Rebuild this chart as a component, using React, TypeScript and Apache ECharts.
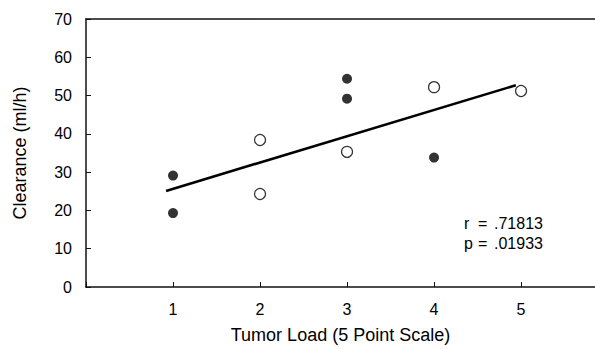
import React, { useEffect, useRef } from "react";
import * as echarts from "echarts";

const filledPoints: [number, number][] = [
  [1, 29.1],
  [1, 19.3],
  [3, 54.4],
  [3, 49.2],
  [4, 33.8],
];
const openPoints: [number, number][] = [
  [2, 38.4],
  [2, 24.3],
  [3, 35.3],
  [4, 52.2],
  [5, 51.2],
];
const fitLine: [number, number][] = [
  [0.92, 25.1],
  [4.94, 52.7],
];
const xTicks = [1, 2, 3, 4, 5];
const statLabels = ["r", "p"];
const statValues = [".71813", ".01933"];

const FONT = "'Liberation Sans', Arial, Helvetica, sans-serif";

export default function App() {
  const ref = useRef<HTMLDivElement>(null);
  useEffect(() => {
    if (!ref.current) return;
    const chart = echarts.init(ref.current, null, { renderer: "svg" });
    const axisLine = { show: true, lineStyle: { color: "#111", width: 1.5 } };
    chart.setOption({
      animation: false,
      backgroundColor: "#fff",
      textStyle: { fontFamily: FONT },
      grid: { left: 86, top: 19, right: 0, bottom: 51, containLabel: false },
      xAxis: [
        {
          type: "value",
          min: 0,
          max: 5.85,
          interval: 1,
          position: "bottom",
          axisLine,
          axisTick: { show: true, inside: true, length: 5, lineStyle: { color: "#111", width: 1 } },
          splitLine: { show: false },
          axisLabel: {
            color: "#000",
            fontSize: 16,
            fontFamily: FONT,
            margin: 14,
            showMaxLabel: false,
            formatter: (v: number) => (xTicks.includes(v) ? String(v) : ""),
          },
          name: "Tumor Load (5 Point Scale)",
          nameLocation: "middle",
          nameGap: 39,
          nameTextStyle: { color: "#000", fontSize: 18, fontFamily: FONT },
        },
        {
          type: "value",
          min: 0,
          max: 5.85,
          position: "top",
          axisLine,
          axisTick: { show: false },
          axisLabel: { show: false },
          splitLine: { show: false },
        },
      ],
      yAxis: {
        type: "value",
        min: 0,
        max: 70,
        interval: 10,
        axisLine,
        axisTick: { show: true, inside: true, length: 5, lineStyle: { color: "#111", width: 1 } },
        splitLine: { show: false },
        axisLabel: { color: "#000", fontSize: 16, fontFamily: FONT, margin: 14 },
        name: "Clearance (ml/h)",
        nameLocation: "middle",
        nameGap: 57,
        nameRotate: 90,
        nameTextStyle: { color: "#000", fontSize: 18, fontFamily: FONT },
      },
      series: [
        {
          type: "line",
          data: fitLine,
          symbol: "none",
          lineStyle: { color: "#000", width: 2.6 },
          z: 2,
        },
        {
          type: "scatter",
          data: filledPoints,
          symbol: "circle",
          symbolSize: 10,
          itemStyle: { color: "#000" },
          z: 3,
        },
        {
          type: "scatter",
          data: openPoints,
          symbol: "circle",
          symbolSize: 11,
          itemStyle: { color: "#fff", borderColor: "#000", borderWidth: 1.2 },
          z: 3,
        },
      ],
      graphic: statLabels.flatMap((lab, i) => [
        {
          type: "text",
          left: 464,
          top: 215 + i * 20,
          style: { text: lab, fontSize: 16, fontFamily: FONT, fill: "#000" },
        },
        {
          type: "text",
          left: 478,
          top: 215 + i * 20,
          style: { text: "=", fontSize: 16, fontFamily: FONT, fill: "#000" },
        },
        {
          type: "text",
          left: 494,
          top: 215 + i * 20,
          style: { text: statValues[i], fontSize: 16, fontFamily: FONT, fill: "#000" },
        },
      ]),
    });
    return () => chart.dispose();
  }, []);
  return (
    <div
      ref={ref}
      style={{ position: "fixed", left: 0, top: 0, width: 595, height: 349 }}
    />
  );
}
